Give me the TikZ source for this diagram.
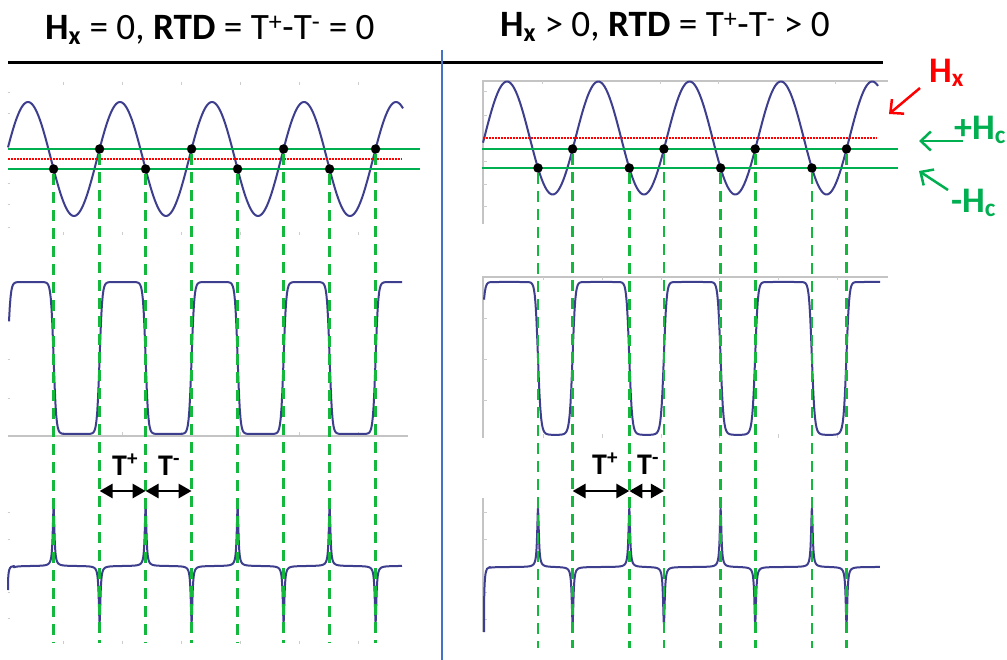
\documentclass[tikz,border=0pt]{standalone}
\usepackage{fontspec}
\setmainfont{Carlito}
\usetikzlibrary{arrows.meta}
\definecolor{wavec}{RGB}{62,62,142}
\definecolor{grn}{RGB}{0,176,80}
\definecolor{dgrn}{RGB}{20,184,60}
\definecolor{divblue}{RGB}{68,114,196}
\definecolor{axgray}{RGB}{196,196,196}
\definecolor{tickgray}{RGB}{205,205,205}
\begin{document}
\begin{tikzpicture}[x=1pt,y=-1pt,
  declare function={Sp(\t)=0.004358/(1.872328-1.867970*cos(\t));},
  wave/.style={draw=wavec, line width=2pt, line join=round},
  hline/.style={draw=grn, line width=2.6pt},
  vdash/.style={draw=dgrn, line width=2.8pt, dash pattern=on 11pt off 7pt},
  reddot/.style={draw=red, line width=1.5pt, dash pattern=on 1.5pt off 1.5pt},
  dot/.style={circle, fill=black, inner sep=0pt, minimum size=9.5pt},
  axisline/.style={draw=axgray, line width=1.3pt},
  tk/.style={draw=tickgray, line width=0.9pt},
  dbl/.style={line width=2.8pt, {Triangle[length=13pt,width=14pt]}-{Triangle[length=13pt,width=14pt]}},
  ttl/.style={font=\fontsize{37.2}{40}\selectfont, anchor=base west, inner sep=0pt},
  tlab/.style={font=\fontsize{30}{34}\selectfont\bfseries, anchor=base west, inner sep=0pt},
  side/.style={font=\fontsize{36}{40}\selectfont\bfseries, anchor=base west, inner sep=0pt},
  barb/.style={line width=2.5pt, -{Straight Barb[length=10pt,width=19pt]}}
]
\useasboundingbox (0,0) rectangle (1007,660);
\fill[white] (0,0) rectangle (1007,660);

% ---------- titles and frame ----------
\node[ttl] (tl) at (45,40) {\textbf{H\textsubscript{x}} = 0, \textbf{RTD} = T\textsuperscript{+}-T\textsuperscript{-} = 0};
\node[ttl] (tr) at (500,37) {\textbf{H\textsubscript{x}} {\char"003E} 0, \textbf{RTD} = T\textsuperscript{+}-T\textsuperscript{-} {\char"003E} 0};
\coordinate (hl1) at (8,62.5);
\coordinate (hl2) at (883,62.5);
\draw[line width=2.4pt] (hl1) -- (hl2);
\coordinate (vb1) at (442,50);
\coordinate (vb2) at (442,660);
\draw[divblue, line width=2pt] (vb1) -- (vb2);

% ---------- faint ticks, left panels ----------
\foreach \x in {63,122,181,240,299,358}{
  \draw[tk] (\x,82.5) -- (\x,85.5);
  \draw[tk] (\x,232.5) -- (\x,235.5);
  \draw[tk] (\x,432) -- (\x,436);
  \draw[tk] (\x,640.5) -- (\x,643.5);
}
\foreach \y in {92,113,183,204,227,319,359,398,512,539,592,618}{
  \draw[tk] (7.5,\y) -- (10,\y);
}
\draw[axisline] (8,436) -- (408,436);

% ---------- axes, right panels ----------
\draw[axisline] (483,224) -- (483,81) -- (888,81);
\foreach \x in {542,601,660,718,777,835}{ \draw[tk] (\x,81) -- (\x,84.5); }
\foreach \y in {91.5,115,161,184,206.5}{ \draw[tk] (483,\y) -- (486.5,\y); }
\draw[axisline] (483,438) -- (483,277) -- (888,277);
\foreach \x in {543,602,661,719,778,837}{
  \draw[tk] (\x,277) -- (\x,280.5);
  \draw[tk] (\x,434) -- (\x,437.5);
}
\foreach \y in {318,359,400}{ \draw[tk] (483,\y) -- (486.5,\y); }
\draw[axisline] (483,498) -- (483,632);
\foreach \y in {512,539,592,619}{ \draw[tk] (483,\y) -- (486.5,\y); }

% ---------- left: field, magnetisation, derivative ----------
\draw[wave] plot[domain=8:403, samples=300, smooth] (\x, {159-57*sin(3.913043*(\x-5))});
\draw[reddot] (8,159) -- (402,159);
\draw[hline] (8,149) -- (420,149);
\draw[hline] (8,169) -- (420,169);
\draw[wave] plot[domain=9:402, samples=500] (\x, {358-76*tanh(5.5*cos(3.913043*(\x-30.6)))});
\draw[wave] (8,590) .. controls (8,569) and (9,566.3) .. (14,566)
  -- plot[domain=14:402, samples=2000] (\x, {566-60*Sp(3.913043*(\x-53.6))+57*Sp(3.913043*(\x-99.6))});

% ---------- right: field, magnetisation, derivative ----------
\draw[wave] plot[domain=483:878, samples=300, smooth] (\x, {138-56.5*sin(3.943045*(\x-484.2))});
\draw[reddot] (483,138) -- (877,138);
\draw[hline] (482,149) -- (898,149);
\draw[hline] (482,168) -- (898,168);
\draw[wave] plot[domain=484:880, samples=500] (\x, {358.5-76.5*tanh(5.5*(cos(3.943045*(\x-509.6))+0.375))});
\draw[wave] (484,632) .. controls (484,572) and (485,567.3) .. (490,567)
  -- plot[domain=490:880, samples=2000] (\x, {567-59*Sp(3.943045*(\x-538))+58*Sp(3.943045*(\x-572.6))});

% ---------- switching points and dashed guides ----------
\foreach \i in {0,1,2,3}{
  \pgfmathsetmacro{\xa}{53.6+92*\i}
  \pgfmathsetmacro{\xb}{99.6+92*\i}
  \node[dot] (Ld\i) at (\xa,169) {};
  \node[dot] (La\i) at (\xb,149) {};
  \coordinate (Ldb\i) at (\xa,643);
  \coordinate (Lab\i) at (\xb,643);
  \draw[vdash] (Ld\i.south) -- (Ldb\i);
  \draw[vdash] (La\i.south) -- (Lab\i);
  \pgfmathsetmacro{\xc}{538+91.3*\i}
  \pgfmathsetmacro{\xd}{572.6+91.3*\i}
  \node[dot] (Rd\i) at (\xc,168) {};
  \node[dot] (Ra\i) at (\xd,149) {};
  \coordinate (Rdb\i) at (\xc,648);
  \coordinate (Rab\i) at (\xd,648);
  \draw[vdash] (Rd\i.south) -- (Rdb\i);
  \draw[vdash] (Ra\i.south) -- (Rab\i);
}

% ---------- T+ / T- intervals ----------
\coordinate (lp1) at (99.6,491);
\coordinate (lp2) at (145.6,491);
\coordinate (lp3) at (191.6,491);
\draw[dbl] (lp1) -- (lp2);
\draw[dbl] (lp2) -- (lp3);
\node[tlab] (lTp) at (112,475) {T\textsuperscript{+}};
\node[tlab] (lTm) at (158,475) {T\textsuperscript{-}};
\coordinate (rp1) at (572.6,491);
\coordinate (rp2) at (629.3,491);
\coordinate (rp3) at (663.9,491);
\draw[dbl] (rp1) -- (rp2);
\draw[dbl] (rp2) -- (rp3);
\node[tlab] (rTp) at (592,474) {T\textsuperscript{+}};
\node[tlab] (rTm) at (637,474) {T\textsuperscript{-}};

% ---------- side labels ----------
\node[side, text=red] (hx) at (929,83) {H\textsubscript{x}};
\coordinate (hxa) at (920,88);
\coordinate (hxb) at (889,114);
\draw[barb, red] (hxa) -- (hxb);
\node[side, text=grn] (phc) at (954,140) {+H\textsubscript{c}};
\coordinate (pa) at (963,141);
\coordinate (pb) at (919,141);
\draw[barb, grn] (pa) -- (pb);
\node[side, text=grn] (mhc) at (951,213) {-H\textsubscript{c}};
\coordinate (ma) at (948,190);
\coordinate (mb) at (919,171);
\draw[barb, grn] (ma) -- (mb);
\end{tikzpicture}
\end{document}
